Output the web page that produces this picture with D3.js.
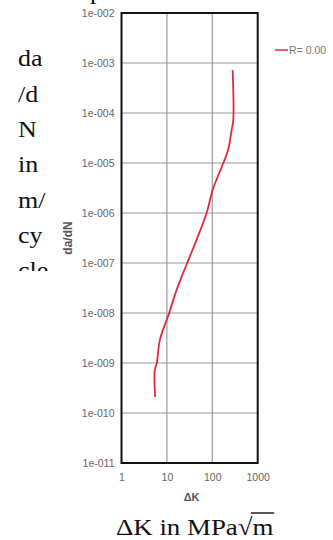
<!DOCTYPE html>
<html>
<head>
<meta charset="utf-8">
<script src="https://d3js.org/d3.v7.min.js"></script>
<style>
  html, body { margin: 0; padding: 0; background: #fff; overflow: hidden; }
  svg { display: block; }
  .tick text { font-family: "Liberation Sans", Arial, sans-serif; font-size: 10.5px; fill: #666; }
  .serif { font-family: "Liberation Serif", "Times New Roman", serif; fill: #111; }
</style>
</head>
<body>
<svg id="chart" width="333" height="540"></svg>
<script>
  // crack growth curve
  var deltaK = [5.5, 5.4, 6.0, 7.0, 11, 16.4, 28, 45, 75, 102, 175, 222, 267, 290, 281];
  var dadN = [2.1e-10, 7.2e-10, 1e-9, 2.9e-9, 9.5e-9, 2.9e-8, 1e-7, 2.9e-7, 1e-6, 2.9e-6, 1e-5, 1.8e-5, 4.6e-5, 7.2e-5, 7.2e-4];
  var xTicks = [1, 10, 100, 1000];
  var yTicks = [1e-11, 1e-10, 1e-9, 1e-8, 1e-7, 1e-6, 1e-5, 1e-4, 1e-3, 1e-2];
  var seriesName = "R= 0.00";
  var wrapLines = ["da", "/d", "N", "in", "m/", "cy", "cle"];

  var svg = d3.select("#chart");

  var plotL = 121.5, plotR = 257.7, plotT = 13, plotB = 463;
  var x = d3.scaleLog().domain([1, 1000]).range([plotL, plotR]);
  var y = d3.scaleLog().domain([1e-11, 1e-2]).range([plotB, plotT]);

  // tick label like 1e-005
  function expFmt(v) {
    var e = Math.round(Math.log10(v));
    var s = String(Math.abs(e)).padStart(3, "0");
    return "1e" + (e < 0 ? "-" : "+") + s;
  }

  // grid
  var grid = svg.append("g");
  grid.selectAll(".gx").data(xTicks.slice(1, -1)).enter().append("line")
    .attr("x1", d => x(d)).attr("x2", d => x(d))
    .attr("y1", plotT).attr("y2", plotB)
    .attr("stroke", "#999").attr("stroke-width", 1.2);
  grid.selectAll(".gy").data(yTicks.slice(1, -1)).enter().append("line")
    .attr("x1", plotL).attr("x2", plotR)
    .attr("y1", d => y(d)).attr("y2", d => y(d))
    .attr("stroke", "#999").attr("stroke-width", 1.2);

  // axes labels only
  var yAxis = svg.append("g")
    .attr("transform", "translate(" + (plotL - 7) + ",0)")
    .call(d3.axisLeft(y).tickValues(yTicks).tickFormat(expFmt).tickSize(0).tickPadding(0));
  yAxis.select(".domain").remove();

  var xAxis = svg.append("g")
    .attr("transform", "translate(0," + (plotB + 11) + ")")
    .call(d3.axisBottom(x).tickValues(xTicks).tickFormat(d3.format("d")).tickSize(0).tickPadding(0));
  xAxis.select(".domain").remove();

  // frame
  svg.append("rect")
    .attr("x", plotL).attr("y", plotT)
    .attr("width", plotR - plotL).attr("height", plotB - plotT)
    .attr("fill", "none").attr("stroke", "#111").attr("stroke-width", 2);

  // curve
  var line = d3.line()
    .x((d, i) => x(deltaK[i]))
    .y((d, i) => y(dadN[i]))
    .curve(d3.curveCatmullRom);
  svg.append("path")
    .datum(dadN)
    .attr("d", line)
    .attr("fill", "none")
    .attr("stroke", "#e4283a")
    .attr("stroke-width", 1.8);

  // axis titles
  svg.append("text")
    .attr("x", (plotL + plotR) / 2 + 2).attr("y", 501)
    .attr("text-anchor", "middle")
    .style("font-family", "Liberation Sans, Arial, sans-serif")
    .style("font-size", "11px").style("font-weight", "bold").attr("fill", "#555")
    .text("ΔK");
  svg.append("text")
    .attr("transform", "translate(71.5,238) rotate(-90)")
    .attr("text-anchor", "middle")
    .style("font-family", "Liberation Sans, Arial, sans-serif")
    .style("font-size", "12px").style("font-weight", "bold").attr("fill", "#555")
    .text("da/dN");

  // legend
  svg.append("line")
    .attr("x1", 275).attr("x2", 288).attr("y1", 50).attr("y2", 50)
    .attr("stroke", "#e05060").attr("stroke-width", 1.8);
  svg.append("text")
    .attr("x", 289).attr("y", 54)
    .style("font-family", "Liberation Sans, Arial, sans-serif")
    .style("font-size", "10.5px").attr("fill", "#777")
    .text(seriesName);

  // surrounding page text (wrapped caption, clipped)
  svg.append("clipPath").attr("id", "colclip")
    .append("rect").attr("x", 0).attr("y", 0).attr("width", 60).attr("height", 271);
  var colG = svg.append("g").attr("clip-path", "url(#colclip)");
  var col = colG.append("text").attr("class", "serif")
    .attr("transform", "translate(18,0) scale(1.13,1)")
    .style("font-size", "23px");
  col.selectAll("tspan").data(wrapLines).enter().append("tspan")
    .attr("x", 0).attr("y", (d, i) => 66.5 + i * 35.3)
    .text(d => d);

  svg.append("text").attr("class", "serif")
    .attr("transform", "translate(90,-1) scale(1.13,1)")
    .style("font-size", "23px").text("p");

  var capG = svg.append("g").attr("transform", "translate(116,535) scale(1.12,1)");
  var cap = capG.append("text").attr("class", "serif")
    .attr("x", 0).attr("y", 0).style("font-size", "24px");
  cap.append("tspan").text("ΔK in MPa√");
  var m = cap.append("tspan").text("m");
  // overline over the radicand
  var bb = m.node().getBBox();
  capG.append("line")
    .attr("x1", bb.x - 1.5).attr("x2", bb.x + bb.width + 0.5)
    .attr("y1", -22).attr("y2", -22)
    .attr("stroke", "#111").attr("stroke-width", 1.4);
</script>
</body>
</html>
